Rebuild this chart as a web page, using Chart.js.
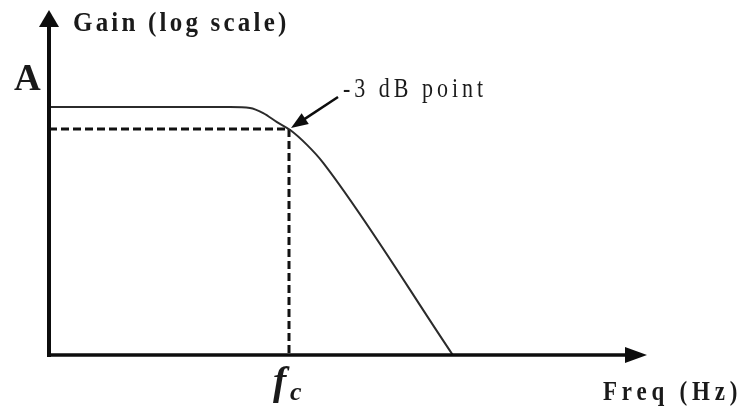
<!DOCTYPE html>
<html>
<head>
<meta charset="utf-8">
<script src="https://cdn.jsdelivr.net/npm/chart.js@4"></script>
<style>
  html,body{margin:0;padding:0;background:#fff}
  #wrap{width:743px;height:409px}
</style>
</head>
<body>
<div id="wrap"><canvas id="bode" width="743" height="409"></canvas></div>
<script>
// frequency (arbitrary linear units) and gain
const freq = [0, 3.02, 3.35, 3.57, 3.80, 4.02, 4.30, 4.57, 6.73];
const gain = [7.19, 7.19, 7.16, 7.01, 6.75, 6.52, 6.09, 5.57, 0];
const fc = 4.0;        // cutoff frequency
const gain3dB = 6.55;  // level of the -3 dB point
const xRange = [0, 10];
const yRange = [0, 10];
const labels = {y: 'Gain (log scale)', x: 'Freq (Hz)', a: 'A', point: '-3 dB point', f: 'f', sub: 'c'};

const curve = freq.map((f, i) => ({x: f, y: gain[i]}));
const guide = [{x: 0, y: gain3dB}, {x: fc, y: gain3dB}, {x: fc, y: 0}];

const serif = '"Liberation Serif", "DejaVu Serif", serif';

function txt(ctx, s, x, y, font, ls, sy) {
  ctx.save();
  ctx.font = font;
  ctx.letterSpacing = ls + 'px';
  ctx.textAlign = 'left';
  ctx.textBaseline = 'alphabetic';
  ctx.fillStyle = '#1a1a1a';
  ctx.translate(x, y);
  ctx.scale(1, sy);
  ctx.fillText(s, 0, 0);
  ctx.restore();
}

function arrowHead(ctx, tx, ty, ang, len, half) {
  ctx.save();
  ctx.translate(tx, ty);
  ctx.rotate(ang);
  ctx.beginPath();
  ctx.moveTo(0, 0);
  ctx.lineTo(-len, -half);
  ctx.lineTo(-len, half);
  ctx.closePath();
  ctx.fill();
  ctx.restore();
}

const sketchAxes = {
  id: 'sketchAxes',
  afterDatasetsDraw(chart) {
    const ctx = chart.ctx;
    const xs = chart.scales.x, ys = chart.scales.y;
    const x0 = xs.getPixelForValue(0), y0 = ys.getPixelForValue(0);
    const xEnd = xs.getPixelForValue(xRange[1]) - 2;
    const yEnd = ys.getPixelForValue(yRange[1]);
    ctx.save();
    ctx.strokeStyle = '#0d0d0d';
    ctx.fillStyle = '#0d0d0d';
    ctx.lineCap = 'butt';
    // y axis
    ctx.lineWidth = 4;
    ctx.beginPath();
    ctx.moveTo(x0, y0 + 2);
    ctx.lineTo(x0, yEnd + 14);
    ctx.stroke();
    arrowHead(ctx, x0, yEnd, -Math.PI / 2, 17, 10);
    // x axis
    ctx.lineWidth = 3.5;
    ctx.beginPath();
    ctx.moveTo(x0 - 2, y0);
    ctx.lineTo(xEnd - 18, y0);
    ctx.stroke();
    arrowHead(ctx, xEnd, y0, 0, 22, 8);

    // -3 dB pointer
    const px = xs.getPixelForValue(fc) + 2, py = ys.getPixelForValue(gain3dB) - 1;
    const tx = px + 47, ty = py - 31;
    const ang = Math.atan2(py - ty, px - tx);
    ctx.lineWidth = 2.5;
    ctx.beginPath();
    ctx.moveTo(tx, ty);
    ctx.lineTo(px - 12 * Math.cos(ang), py - 12 * Math.sin(ang));
    ctx.stroke();
    arrowHead(ctx, px, py, ang, 17, 6.5);
    ctx.restore();

    // texts
    txt(ctx, labels.y, x0 + 24, 31, 'bold 25px ' + serif, 3.2, 1.1);
    txt(ctx, labels.a, 14, 90, 'bold 37px ' + serif, 0, 1);
    txt(ctx, labels.point, tx + 5, 97, '22px ' + serif, 4, 1.2);
    txt(ctx, labels.x, 603, 400, 'bold 23px ' + serif, 4.8, 1.18);
    const fx = xs.getPixelForValue(fc);
    txt(ctx, labels.f, fx - 16, 394, 'italic bold 40px ' + serif, 0, 1);
    txt(ctx, labels.sub, fx + 1, 400, 'italic bold 26px ' + serif, 0, 1);
  }
};

new Chart(document.getElementById('bode'), {
  type: 'scatter',
  data: {
    datasets: [
      {
        data: curve,
        showLine: true,
        borderColor: '#2b2b2b',
        borderWidth: 2,
        pointRadius: 0,
        cubicInterpolationMode: 'monotone',
        clip: false
      },
      {
        data: guide,
        showLine: true,
        borderColor: '#111',
        borderWidth: 3,
        borderDash: [8, 4],
        pointRadius: 0,
        clip: false
      }
    ]
  },
  options: {
    responsive: false,
    animation: false,
    devicePixelRatio: 1,
    layout: {padding: {left: 49, right: 94, top: 10, bottom: 54}},
    scales: {
      x: {type: 'linear', min: xRange[0], max: xRange[1], display: false},
      y: {type: 'linear', min: yRange[0], max: yRange[1], display: false}
    },
    plugins: {legend: {display: false}, tooltip: {enabled: false}}
  },
  plugins: [sketchAxes]
});
</script>
</body>
</html>
